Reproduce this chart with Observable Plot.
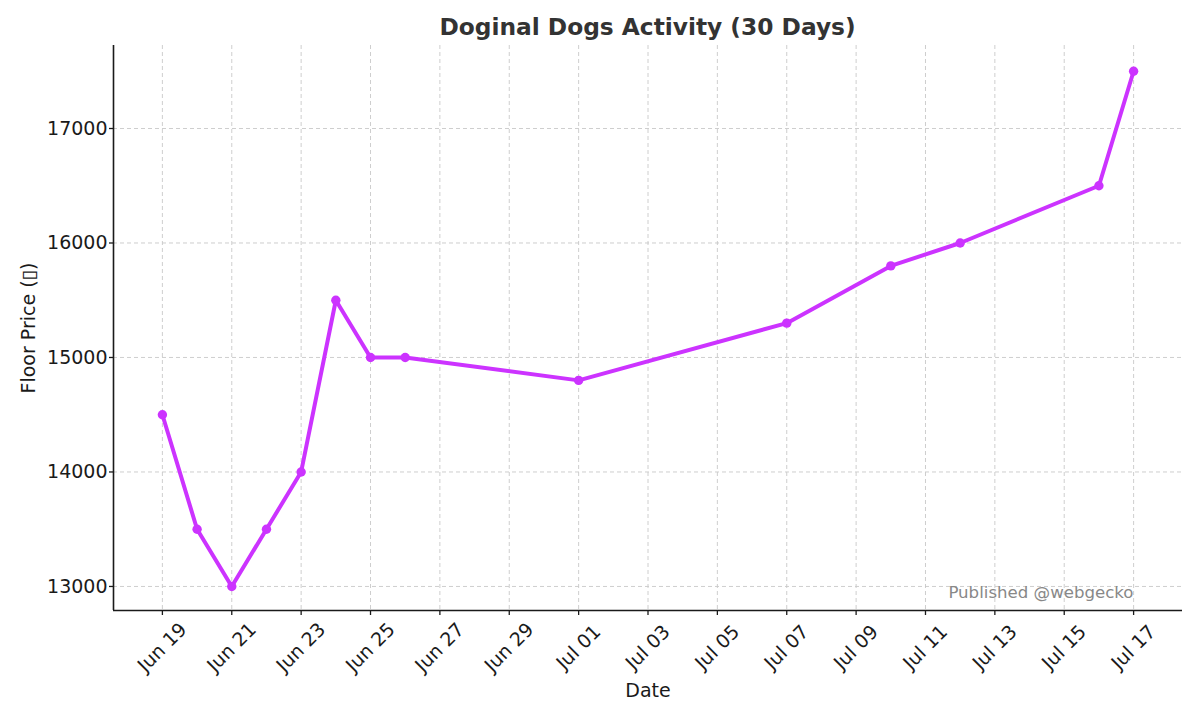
<!DOCTYPE html>
<html>
<head>
<meta charset="utf-8">
<script src="https://cdn.jsdelivr.net/npm/d3@7"></script>
<script src="https://cdn.jsdelivr.net/npm/@observablehq/plot@0.6"></script>
<style>
  html, body { margin: 0; padding: 0; background: #fff; }
  #wrap { position: relative; width: 1200px; height: 720px; font-family: "DejaVu Sans", sans-serif; }
  #title { position: absolute; left: 113px; width: 1069px; top: 12px; text-align: center;
           font-weight: bold; font-size: 23.3px; line-height: 30px; color: #333; }
  #chart { position: absolute; left: 0; top: 0; }
</style>
</head>
<body>
<div id="wrap">
  <div id="chart"></div>
  <div id="title">Doginal Dogs Activity (30 Days)</div>
</div>
<script>
const dates = ["2024-06-19","2024-06-20","2024-06-21","2024-06-22","2024-06-23","2024-06-24","2024-06-25","2024-06-26","2024-07-01","2024-07-07","2024-07-10","2024-07-12","2024-07-16","2024-07-17"];
const floorPrice = [14500,13500,13000,13500,14000,15500,15000,15000,14800,15300,15800,16000,16500,17500];
const xTickDates = ["2024-06-19","2024-06-21","2024-06-23","2024-06-25","2024-06-27","2024-06-29","2024-07-01","2024-07-03","2024-07-05","2024-07-07","2024-07-09","2024-07-11","2024-07-13","2024-07-15","2024-07-17"];
const yTicks = [13000,14000,15000,16000,17000];
const xDomain = ["2024-06-17T14:10Z","2024-07-18T09:50Z"];
const yDomain = [12790, 17725];

const data = dates.map((d, i) => ({date: new Date(d + "T00:00Z"), price: floorPrice[i]}));
const xt = xTickDates.map(d => new Date(d + "T00:00Z"));
const fmt = d3.utcFormat("%b %d");
const color = "#cc33ff";
const ink = "#1a1a1a";

const chart = Plot.plot({
  width: 1200,
  height: 720,
  marginLeft: 113,
  marginRight: 18,
  marginTop: 45,
  marginBottom: 110,
  style: {fontFamily: "DejaVu Sans, sans-serif", fontSize: "19px", color: ink, background: "#fff"},
  x: {type: "utc", domain: xDomain.map(d => new Date(d)), label: null},
  y: {domain: yDomain, label: null},
  marks: [
    Plot.gridX(xt, {stroke: "#c8c8c8", strokeOpacity: 1, strokeDasharray: "4,3", strokeWidth: 0.9}),
    Plot.gridY(yTicks, {stroke: "#c8c8c8", strokeOpacity: 1, strokeDasharray: "4,3", strokeWidth: 0.9}),
    Plot.axisX(xt, {tickFormat: () => "", tickSize: 5, stroke: ink, strokeWidth: 1.3, label: null}),
    Plot.text(xt, {x: d => d, text: d => fmt(d), frameAnchor: "bottom", dy: 37, rotate: -45, textAnchor: "middle", lineAnchor: "middle", fontSize: 19, fill: ink}),
    Plot.axisY(yTicks, {tickFormat: "d", tickSize: 4, tickPadding: 2, fontSize: 19, stroke: ink, strokeWidth: 1.3, label: null}),
    Plot.ruleX([0], {x: () => new Date(xDomain[0]), stroke: ink, strokeWidth: 1.6}),
    Plot.ruleY([0], {y: () => yDomain[0], stroke: ink, strokeWidth: 1.6}),
    Plot.line(data, {x: "date", y: "price", stroke: color, strokeWidth: 4}),
    Plot.dot(data, {x: "date", y: "price", fill: color, r: 4.7}),
    Plot.text(["Published @webgecko"], {frameAnchor: "bottom-right", dx: -49, dy: -13, fill: "#888", fontSize: 16.6, textAnchor: "end"}),
    Plot.text(["Date"], {frameAnchor: "bottom", dy: 80, fontSize: 19, fill: ink, lineAnchor: "middle", textAnchor: "middle"}),
    Plot.text(["Floor Price (▯)"], {frameAnchor: "left", dx: -85, rotate: -90, fontSize: 19, fill: ink, textAnchor: "middle", lineAnchor: "middle"})
  ]
});
document.getElementById("chart").appendChild(chart);
</script>
</body>
</html>
